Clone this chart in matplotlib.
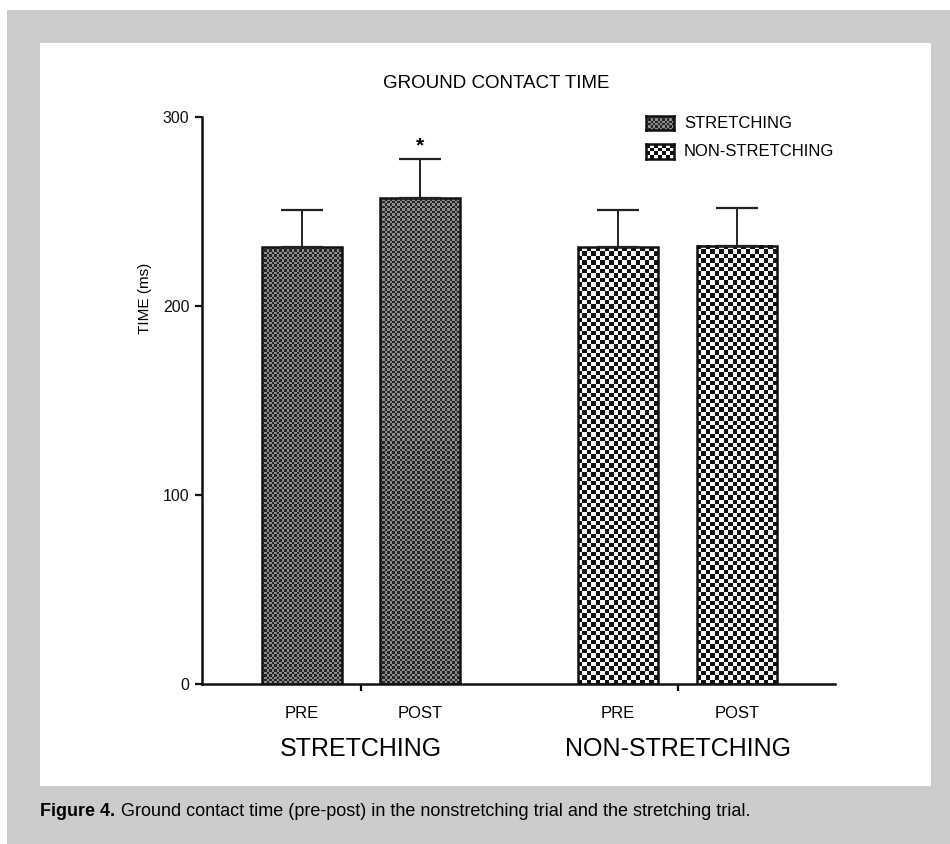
import numpy as np
import matplotlib
matplotlib.use("Agg")
import matplotlib.pyplot as plt
from matplotlib.patches import Rectangle

plt.rcParams['font.family'] = ['Liberation Sans', 'DejaVu Sans']

# data
groups = ['STRETCHING', 'NON-STRETCHING']
phases = ['PRE', 'POST']
means = [231, 257, 231, 232]
errors = [20, 21, 20, 20]
significant = [False, True, False, False]

W, H = 950, 844


def fx(px):
    return px / W


def fy(py):
    return 1 - py / H


fig = plt.figure(figsize=(W / 100, H / 100), dpi=100)
fig.patch.set_facecolor('white')

# gray page + white panel
fig.patches.append(Rectangle((fx(7), 0), 1 - fx(7), fy(10), transform=fig.transFigure,
                             facecolor='#cccccc', edgecolor='none', zorder=-10))
fig.patches.append(Rectangle((fx(40), fy(786)), fx(931) - fx(40), fy(43) - fy(786),
                             transform=fig.transFigure, facecolor='white', edgecolor='none', zorder=-9))

# axes
ax_l, ax_r, ax_b, ax_t = 202, 835, 684, 117
ax = fig.add_axes([fx(ax_l), fy(ax_b), fx(ax_r) - fx(ax_l), fy(ax_t) - fy(ax_b)])
ax.set_facecolor('none')
xmax = (ax_r - ax_l) / 100.0
px_x = 100.0
px_y = (ax_b - ax_t) / 300.0

xpos = [1.00, 2.18, 4.16, 5.35]
width = 0.80
group_x = [1.59, 4.76]

styles = [
    dict(cell=2.5, c0='#262626', c1='#8c8c8c'),
    dict(cell=4.4, c0='#111111', c1='#f6f6f6'),
]


def checker(nx, ny, c0, c1):
    a = np.add.outer(np.arange(ny), np.arange(nx)) % 2
    c0 = np.array(matplotlib.colors.to_rgb(c0))
    c1 = np.array(matplotlib.colors.to_rgb(c1))
    return np.where(a[..., None] == 0, c0, c1)


for i, (x, m, e) in enumerate(zip(xpos, means, errors)):
    st = styles[i // 2]
    nx = max(1, int(round(width * px_x / st['cell'])))
    ny = max(1, int(round(m * px_y / st['cell'])))
    ax.imshow(checker(nx, ny, st['c0'], st['c1']), extent=(x - width / 2, x + width / 2, 0, m),
              aspect='auto', interpolation='nearest', zorder=1)
    ax.bar(x, m, width, fill=False, edgecolor='#111111', linewidth=1.8, zorder=2)
    ax.errorbar(x, m, yerr=[[0], [e]], fmt='none', ecolor='#222222', elinewidth=1.4,
                capsize=14.8, capthick=1.6, zorder=3)
    if significant[i]:
        ax.text(x, m + e + 1.5, '*', ha='center', va='bottom', fontsize=15, fontweight='bold')

ax.set_xlim(0, xmax)
ax.set_ylim(0, 300)

for s in ['top', 'right']:
    ax.spines[s].set_visible(False)
for s in ['left', 'bottom']:
    ax.spines[s].set_linewidth(1.8)
    ax.spines[s].set_color('#111111')

ax.set_yticks([0, 100, 200, 300])
ax.tick_params(axis='y', length=5, width=1.6, labelsize=11.5, pad=4, colors='#111111')
ax.set_xticks(group_x)
ax.set_xticklabels([])
ax.tick_params(axis='x', length=5, width=1.6)

# PRE / POST labels and group labels
tr = ax.get_xaxis_transform()
y_phase = (ax_b - 714) / (ax_b - ax_t)
y_group = (ax_b - 749) / (ax_b - ax_t)
for i, x in enumerate(xpos):
    ax.text(x, y_phase, phases[i % 2], transform=tr, ha='center', va='center', fontsize=12)
for g, x in zip(groups, group_x):
    ax.text(x, y_group, g, transform=tr, ha='center', va='center', fontsize=18)

# title and y label
fig.text(fx(496), fy(84), 'GROUND CONTACT TIME', ha='center', va='center', fontsize=13.5)
fig.text(fx(145), fy(298), 'TIME (ms)', ha='center', va='center', rotation=90, fontsize=11)

# legend built from small axes
leg_boxes = [(646, 116, 674, 130), (646, 144, 674, 159)]
leg_cells = [2.3, 4.0]
for (x0, y0, x1, y1), st, cell, g in zip(leg_boxes, styles, leg_cells, groups):
    la = fig.add_axes([fx(x0), fy(y1), fx(x1) - fx(x0), fy(y0) - fy(y1)])
    nx = int(round((x1 - x0) / cell))
    ny = int(round((y1 - y0) / cell))
    la.imshow(checker(nx, ny, st['c0'], st['c1']), aspect='auto', interpolation='nearest')
    la.set_xticks([])
    la.set_yticks([])
    for s in la.spines.values():
        s.set_linewidth(1.8)
        s.set_color('#111111')
    fig.text(fx(684), fy((y0 + y1) / 2), g, ha='left', va='center', fontsize=12)

# caption
t1 = fig.text(fx(40), fy(812), 'Figure 4.', ha='left', va='center', fontsize=13,
              fontweight='bold')
ax.annotate('Ground contact time (pre-post) in the nonstretching trial and the stretching trial.',
            xy=(1, 0.5), xycoords=t1, xytext=(4, 0), textcoords='offset points',
            ha='left', va='center', fontsize=13, annotation_clip=False)

fig.savefig('out.png', dpi=100, facecolor=fig.get_facecolor())
